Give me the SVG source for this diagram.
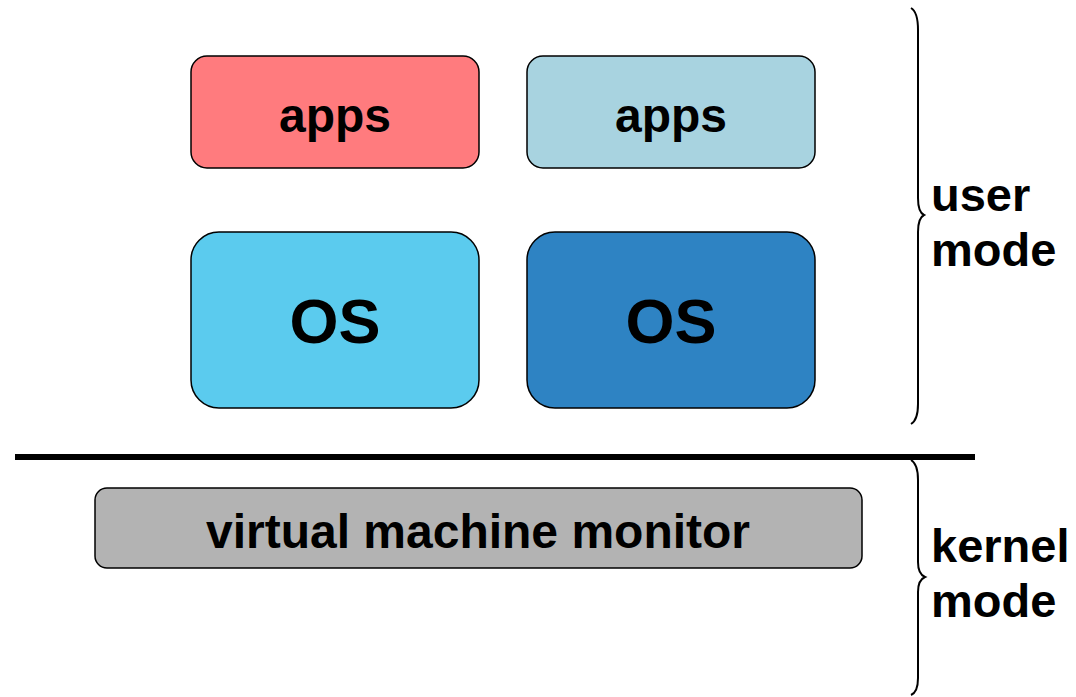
<svg xmlns="http://www.w3.org/2000/svg" width="1076" height="697" viewBox="0 0 1076 697">
<style>
.box{stroke:#000;stroke-width:1.5}
.t{font-family:"Liberation Sans",Arial,sans-serif;font-weight:bold;fill:#000}
.brace{fill:none;stroke:#000;stroke-width:2}
</style>
<rect width="1076" height="697" fill="#fff"/>
<g id="apps1"><rect class="box" x="191" y="56" width="288" height="112" rx="16" fill="#FF7B7E"/><text class="t" x="335" y="132" font-size="48" text-anchor="middle">apps</text></g>
<g id="apps2"><rect class="box" x="527" y="56" width="288" height="112" rx="16" fill="#A8D3E0"/><text class="t" x="671" y="132" font-size="48" text-anchor="middle">apps</text></g>
<g id="os1"><rect class="box" x="191" y="232" width="288" height="176" rx="28" fill="#5BCBEE"/><text class="t" x="335" y="343" font-size="63" text-anchor="middle">OS</text></g>
<g id="os2"><rect class="box" x="527" y="232" width="288" height="176" rx="28" fill="#2E83C3"/><text class="t" x="671" y="343" font-size="63" text-anchor="middle">OS</text></g>
<g id="vmm"><rect class="box" x="95" y="488" width="767" height="80" rx="12" fill="#B3B3B3"/><text class="t" x="478" y="548" font-size="48" text-anchor="middle">virtual machine monitor</text></g>
<g id="connectors">
<line x1="15" y1="457" x2="975" y2="457" stroke="#000" stroke-width="6"/>
<path class="brace" d="M911,8 Q918,12 918,30 L918,198 Q918,212 924,215 Q918,218 918,232 L918,404 Q918,420 911,424"/>
<path class="brace" d="M911,460 Q918,464 918,480 L918,562 Q918,574 925,577 Q918,580 918,592 L918,678 Q918,692 911,695"/>
</g>
<g id="labels">
<text class="t" x="931" y="211" font-size="47">user</text>
<text class="t" x="931" y="266" font-size="47">mode</text>
<text class="t" x="931" y="562" font-size="47">kernel</text>
<text class="t" x="931" y="617" font-size="47">mode</text>
</g>
</svg>
